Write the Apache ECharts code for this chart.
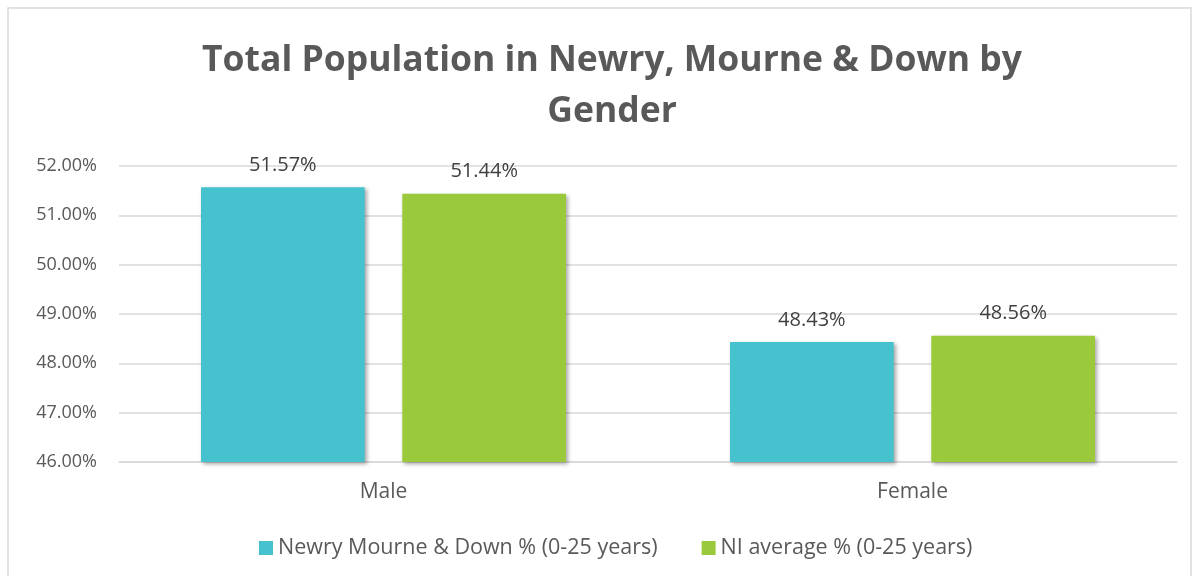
<!DOCTYPE html>
<html>
<head>
<meta charset="utf-8">
<script src="https://cdn.jsdelivr.net/npm/echarts@6/dist/echarts.min.js"></script>
<style>
  html, body { margin: 0; padding: 0; background: #fff; }
  #main { width: 1200px; height: 576px; }
</style>
</head>
<body>
<div id="main"></div>
<script>
// data
var categories = ['Male', 'Female'];
var newryValues = [51.57, 48.43];
var niValues = [51.44, 48.56];
var seriesNames = ['Newry Mourne & Down % (0-25 years)', 'NI average % (0-25 years)'];

var font = '"Open Sans", "Noto Sans", sans-serif';

var myChart = echarts.init(document.getElementById('main'));

var barShadow = {
  shadowColor: 'rgba(0,0,0,0.35)',
  shadowBlur: 4,
  shadowOffsetX: 2,
  shadowOffsetY: 2
};

var option = {
  animation: false,
  backgroundColor: '#fff',
  title: {
    text: 'Total Population in Newry, Mourne & Down by\nGender',
    left: 607,
    textAlign: 'center',
    top: 30,
    textStyle: {
      color: '#595959',
      fontFamily: font,
      fontWeight: 'bold',
      fontSize: 35.5,
      lineHeight: 51
    }
  },
  graphic: [{
    type: 'rect',
    shape: { x: 8, y: 8, width: 1183, height: 580 },
    style: { fill: 'none', stroke: '#d9d9d9', lineWidth: 1.5 },
    silent: true
  }],
  legend: {
    bottom: 12,
    left: 254,
    itemWidth: 14,
    itemHeight: 14,
    itemGap: 44,
    icon: 'rect',
    textStyle: { color: '#595959', fontFamily: font, fontSize: 21.5 },
    data: seriesNames
  },
  grid: {
    left: 119,
    right: 23,
    top: 166,
    bottom: 114,
    containLabel: false
  },
  xAxis: {
    type: 'category',
    data: categories,
    axisLine: { show: true, lineStyle: { color: '#d9d9d9', width: 1.5 } },
    axisTick: { show: false },
    axisLabel: { color: '#595959', fontFamily: font, fontSize: 21, margin: 20 }
  },
  yAxis: {
    type: 'value',
    min: 46,
    max: 52,
    interval: 1,
    axisLine: { show: false },
    axisTick: { show: false },
    splitLine: { lineStyle: { color: '#d9d9d9', width: 1.5 } },
    axisLabel: {
      color: '#595959',
      fontFamily: font,
      fontSize: 18,
      margin: 22,
      formatter: function (v) { return v.toFixed(2) + '%'; }
    }
  },
  series: [
    {
      name: seriesNames[0],
      type: 'bar',
      data: newryValues,
      barGap: '23%',
      barCategoryGap: '31%',
      itemStyle: Object.assign({ color: '#45c2cd' }, barShadow),
      label: {
        show: true,
        position: 'top',
        distance: 12,
        color: '#404040',
        fontFamily: font,
        fontSize: 20,
        formatter: function (p) { return p.value.toFixed(2) + '%'; }
      }
    },
    {
      name: seriesNames[1],
      type: 'bar',
      data: niValues,
      barGap: '23%',
      barCategoryGap: '31%',
      itemStyle: Object.assign({ color: '#9ac93c' }, barShadow),
      label: {
        show: true,
        position: 'top',
        distance: 12,
        color: '#404040',
        fontFamily: font,
        fontSize: 20,
        formatter: function (p) { return p.value.toFixed(2) + '%'; }
      }
    }
  ]
};

myChart.setOption(option);
</script>
</body>
</html>
